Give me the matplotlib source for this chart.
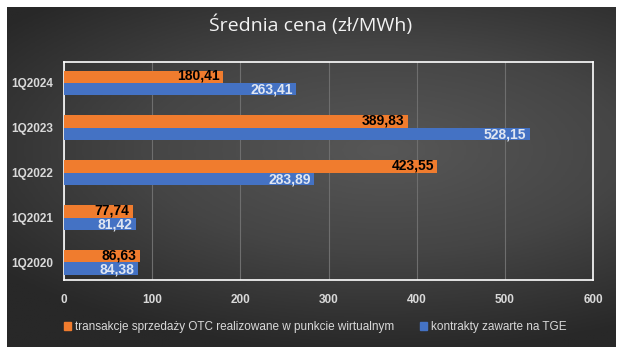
import numpy as np
import matplotlib
matplotlib.use("Agg")
import matplotlib.pyplot as plt
from matplotlib.colors import LinearSegmentedColormap
from matplotlib.patches import Rectangle

categories = ["1Q2020", "1Q2021", "1Q2022", "1Q2023", "1Q2024"]
otc = [86.63, 77.74, 423.55, 389.83, 180.41]
tge = [84.38, 81.42, 283.89, 528.15, 263.41]
otc_labels = ["86,63", "77,74", "423,55", "389,83", "180,41"]
tge_labels = ["84,38", "81,42", "283,89", "528,15", "263,41"]
xticks = [0, 100, 200, 300, 400, 500, 600]
title = "Średnia cena (zł/MWh)"
legend_labels = ["transakcje sprzedaży OTC realizowane w punkcie wirtualnym",
                 "kontrakty zawarte na TGE"]

plt.rcParams['font.family'] = ['Liberation Sans', 'DejaVu Sans']

W, H = 624, 355
fig = plt.figure(figsize=(W / 100, H / 100), dpi=100)
fig.patch.set_facecolor("white")

# background panel with radial gradient
bg = fig.add_axes([7 / W, 1 - 347 / H, (616 - 7) / W, (347 - 7) / H])
bg.set_axis_off()
yy, xx = np.mgrid[0:1:200j, 0:1:300j]
r = np.sqrt(((xx - 0.62) / 1.0) ** 2 + ((yy - 0.58) / 0.75) ** 2)
cmap_bg = LinearSegmentedColormap.from_list("bg", ["#575757", "#454545", "#282828"])
bg.imshow(r, cmap=cmap_bg, aspect="auto", extent=[0, 1, 0, 1], origin="lower", vmin=0, vmax=0.8)
bg.set_xlim(0, 1)
bg.set_ylim(0, 1)

ax = fig.add_axes([64 / W, 1 - 280 / H, (593 - 64) / W, (280 - 62) / H])
ax.patch.set_alpha(0)
y = np.arange(len(categories))
h = 0.27
orange = "#F07C2E"
blue = "#4472C4"
ax.barh(y + h / 2, otc, height=h, color=orange, zorder=3)
ax.barh(y - h / 2, tge, height=h, color=blue, zorder=3)

for yi, v, lab in zip(y, otc, otc_labels):
    ax.text(v - 4, yi + h / 2 + 0.02, lab, ha="right", va="center", fontsize=10,
            fontweight="bold", color="black", zorder=4)
for yi, v, lab in zip(y, tge, tge_labels):
    ax.text(v - 4, yi - h / 2 - 0.02, lab, ha="right", va="center", fontsize=10,
            fontweight="bold", color="#dfe6f2", zorder=4)

ax.set_xlim(0, 600)
ax.set_ylim(-0.39, 4.46)
ax.set_xticks(xticks)
ax.set_xticklabels([str(t) for t in xticks], fontsize=8.5, fontweight="bold", color="#d9d9d9")
ax.set_yticks(y)
ax.set_yticklabels(categories, fontsize=8.5, fontweight="bold", color="#d9d9d9")
ax.tick_params(length=0, pad=8)
ax.tick_params(axis="x", pad=10)
ax.grid(axis="x", color="#6e6e6e", lw=0.8, zorder=1)
for s in ax.spines.values():
    s.set_color("white")
    s.set_linewidth(1.2)

fig.text(0.497, 1 - 25 / H, title, ha="center", va="center", fontsize=14,
         color="#f2f2f2", family=["Open Sans", "DejaVu Sans"])

handles = [Rectangle((0, 0), 1, 1, color=orange), Rectangle((0, 0), 1, 1, color=blue)]
leg = fig.legend(handles, legend_labels, loc="center", bbox_to_anchor=(0.505, 1 - 327 / H),
                 ncol=2, frameon=False, fontsize=8.5, handlelength=0.6, handleheight=0.6,
                 handletextpad=0.3, columnspacing=2.2, labelcolor="#d9d9d9")

fig.savefig("out.png", dpi=100, facecolor=fig.get_facecolor())
